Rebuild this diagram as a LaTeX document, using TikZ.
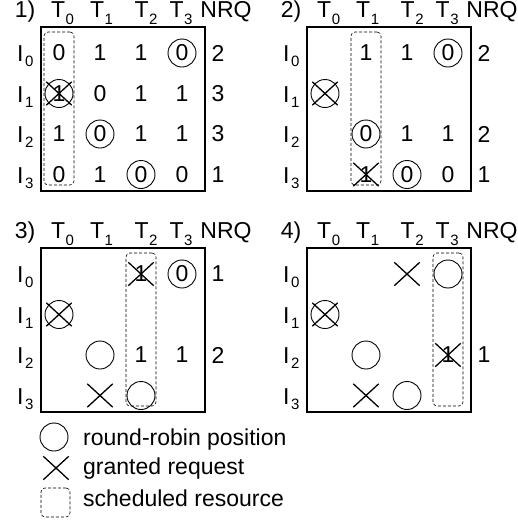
\documentclass[tikz,border=0pt]{standalone}
\usepackage{fontspec}
\setmainfont{Liberation Sans}
\usetikzlibrary{shapes.misc}
\newcommand{\lsub}[2]{\raisebox{-#2pt}{\fontsize{15}{15}\selectfont #1}}
\tikzset{
  lbl/.style={font=\fontsize{23}{23}\selectfont, inner sep=0pt},
  frame/.style={draw, line width=1.8pt, minimum width=164pt, minimum height=164pt, inner sep=0pt},
  rr/.style={lbl, circle, draw, line width=0.9pt, minimum size=28pt},
  gx/.style={cross out, draw, line width=1.3pt, minimum width=24pt, minimum height=22pt, inner sep=0pt},
  sched/.style={draw=black, dash pattern=on 3pt off 2pt, line width=0.6pt, rounded corners=4pt, minimum width=30pt, minimum height=153pt, inner sep=0pt},
}
\newcommand{\panelhead}[1]{%
  \node[frame] (frame) at (123,109) {};
  \node[lbl, anchor=base] (num) at (25,17) {#1)};
  \node[lbl, anchor=base west] (t0) at (51,17) {T\kern0.5pt\lsub{0}{7}};
  \node[lbl, anchor=base west] (t1) at (90,17) {T\kern0.5pt\lsub{1}{7}};
  \node[lbl, anchor=base west] (t2) at (134.5,17) {T\kern0.5pt\lsub{2}{7}};
  \node[lbl, anchor=base west] (t3) at (169.5,17) {T\kern0.5pt\lsub{3}{7}};
  \node[lbl, anchor=base] (nrq) at (226,17) {NRQ};
  \node[lbl, anchor=base west] (i0) at (17,61.5) {I\kern1.5pt\lsub{0}{5}};
  \node[lbl, anchor=base west] (i1) at (17,102) {I\kern1.5pt\lsub{1}{5}};
  \node[lbl, anchor=base west] (i2) at (17,142.5) {I\kern1.5pt\lsub{2}{5}};
  \node[lbl, anchor=base west] (i3) at (17,183) {I\kern1.5pt\lsub{3}{5}};
}
\begin{document}
\begin{tikzpicture}[x=1pt, y=-1pt]
\useasboundingbox (0,0) rectangle (518,523);
% ---------- panel 1
\begin{scope}[name prefix=a-]
  \panelhead{1}
  \node[sched] (s) at (59,108.5) {};
  \node[lbl] (c00) at (59,53) {0};
  \node[lbl] (c01) at (100,53) {1};
  \node[lbl] (c02) at (141,53) {1};
  \node[rr]  (c03) at (182,53) {0};
  \node[lbl] (n0) at (218,53) {2};
  \node[rr]  (c10) at (59,93.5) {1};
  \node[gx]  (x10) at (59,93.5) {};
  \node[lbl] (c11) at (100,93.5) {0};
  \node[lbl] (c12) at (141,93.5) {1};
  \node[lbl] (c13) at (182,93.5) {1};
  \node[lbl] (n1) at (218,93.5) {3};
  \node[lbl] (c20) at (59,134) {1};
  \node[rr]  (c21) at (100,134) {0};
  \node[lbl] (c22) at (141,134) {1};
  \node[lbl] (c23) at (182,134) {1};
  \node[lbl] (n2) at (218,134) {3};
  \node[lbl] (c30) at (59,174.5) {0};
  \node[lbl] (c31) at (100,174.5) {1};
  \node[rr]  (c32) at (141,174.5) {0};
  \node[lbl] (c33) at (182,174.5) {0};
  \node[lbl] (n3) at (218,174.5) {1};
\end{scope}
% ---------- panel 2
\begin{scope}[shift={(266,0)}, name prefix=b-]
  \panelhead{2}
  \node[sched] (s) at (100,108.5) {};
  \node[lbl] (c01) at (100,53) {1};
  \node[lbl] (c02) at (141,53) {1};
  \node[rr]  (c03) at (182,53) {0};
  \node[lbl] (n0) at (218,53) {2};
  \node[rr]  (c10) at (59,93.5) {};
  \node[gx]  (x10) at (59,93.5) {};
  \node[rr]  (c21) at (100,134) {0};
  \node[lbl] (c22) at (141,134) {1};
  \node[lbl] (c23) at (182,134) {1};
  \node[lbl] (n2) at (218,134) {2};
  \node[lbl] (c31) at (100,174.5) {1};
  \node[gx]  (x31) at (100,174.5) {};
  \node[rr]  (c32) at (141,174.5) {0};
  \node[lbl] (c33) at (182,174.5) {0};
  \node[lbl] (n3) at (218,174.5) {1};
\end{scope}
% ---------- panel 3
\begin{scope}[shift={(0,221)}, name prefix=c-]
  \panelhead{3}
  \node[sched] (s) at (141,108.5) {};
  \node[lbl] (c02) at (141,53) {1};
  \node[gx]  (x02) at (141,53) {};
  \node[rr]  (c03) at (182,53) {0};
  \node[lbl] (n0) at (218,53) {1};
  \node[rr]  (c10) at (59,93.5) {};
  \node[gx]  (x10) at (59,93.5) {};
  \node[rr]  (c21) at (100,134) {};
  \node[lbl] (c22) at (141,134) {1};
  \node[lbl] (c23) at (182,134) {1};
  \node[lbl] (n2) at (218,134) {2};
  \node[gx]  (x31) at (100,174.5) {};
  \node[rr]  (c32) at (141,174.5) {};
\end{scope}
% ---------- panel 4
\begin{scope}[shift={(266,221)}, name prefix=d-]
  \panelhead{4}
  \node[sched] (s) at (182,108.5) {};
  \node[gx]  (x02) at (141,53) {};
  \node[rr]  (c03) at (182,53) {};
  \node[rr]  (c10) at (59,93.5) {};
  \node[gx]  (x10) at (59,93.5) {};
  \node[rr]  (c21) at (100,134) {};
  \node[lbl] (c23) at (182,134) {1};
  \node[gx]  (x23) at (182,134) {};
  \node[lbl] (n2) at (218,134) {1};
  \node[gx]  (x31) at (100,174.5) {};
  \node[rr]  (c32) at (141,174.5) {};
\end{scope}
% ---------- legend
\node[rr] (lc) at (54,437) {};
\node[gx] (lx) at (56,468) {};
\node[sched, minimum height=29pt, minimum width=29pt] (ls) at (55.5,502.5) {};
\node[lbl, anchor=base west] (lct) at (83,445) {round-robin position};
\node[lbl, anchor=base west] (lxt) at (83,474) {granted request};
\node[lbl, anchor=base west] (lst) at (83,506) {scheduled resource};
\end{tikzpicture}
\end{document}
